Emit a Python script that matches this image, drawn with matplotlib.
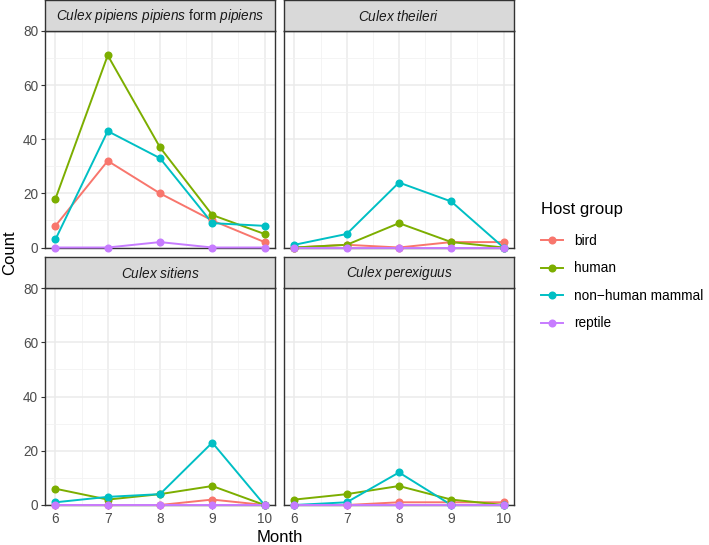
import matplotlib
matplotlib.use("Agg")
import matplotlib.pyplot as plt
from matplotlib.lines import Line2D

plt.rcParams['font.family'] = ['Liberation Sans', 'DejaVu Sans']
plt.rcParams['mathtext.fontset'] = 'custom'
plt.rcParams['mathtext.rm'] = 'Liberation Sans'
plt.rcParams['mathtext.it'] = 'Liberation Sans:italic'

months = [6, 7, 8, 9, 10]
groups = ["bird", "human", "non\u2212human mammal", "reptile"]
colors = ["#F8766D", "#7CAE00", "#00BFC4", "#C77CFF"]

species = [r"$\mathit{Culex\ pipiens\ pipiens}$ form $\mathit{pipiens}$",
           r"$\mathit{Culex\ theileri}$",
           r"$\mathit{Culex\ sitiens}$",
           r"$\mathit{Culex\ perexiguus}$"]

# counts per species, per host group, per month
pipiens = [[8, 32, 20, 10, 2],
           [18, 71, 37, 12, 5],
           [3, 43, 33, 9, 8],
           [0, 0, 2, 0, 0]]
theileri = [[0, 1, 0, 2, 2],
            [0, 1, 9, 2, 0],
            [1, 5, 24, 17, 0],
            [0, 0, 0, 0, 0]]
sitiens = [[0, 0, 0, 2, 0],
           [6, 2, 4, 7, 0],
           [1, 3, 4, 23, 0],
           [0, 0, 0, 0, 0]]
perexiguus = [[0, 0, 1, 1, 1],
              [2, 4, 7, 2, 0],
              [0, 1, 12, 0, 0],
              [0, 0, 0, 0, 0]]
all_data = [pipiens, theileri, sitiens, perexiguus]

W, H = 709, 545
fig = plt.figure(figsize=(W / 100, H / 100), dpi=100)

# panel boxes in pixels: left, top, right, bottom
boxes = [(45, 31, 275, 247.5), (284, 31, 514, 247.5),
         (45, 288, 275, 505), (284, 288, 514, 505)]
strip_h = 31
txt_size = 9.8
title_size = 12
lw = 1.4
ms = 5.8

for k, (l, t, r, b) in enumerate(boxes):
    ax = fig.add_axes([l / W, 1 - b / H, (r - l) / W, (b - t) / H])
    ax.set_facecolor("white")
    ax.set_xlim(5.8, 10.2)
    ax.set_ylim(0, 80)
    ax.set_xticks(months)
    ax.set_xticks([6.5, 7.5, 8.5, 9.5], minor=True)
    ax.set_yticks([0, 20, 40, 60, 80])
    ax.set_yticks([10, 30, 50, 70], minor=True)
    ax.grid(which="major", color="#EBEBEB", lw=1.1)
    ax.grid(which="minor", color="#F2F2F2", lw=0.6)
    ax.set_axisbelow(True)
    for s in ax.spines.values():
        s.set_color("#333333")
        s.set_linewidth(1.0)
    ax.tick_params(which="minor", length=0)
    ax.tick_params(which="major", length=3, width=0.8, color="#333333",
                   labelcolor="#4D4D4D", labelsize=txt_size, pad=2)
    if k % 2 == 1:
        ax.tick_params(axis="y", length=0, labelleft=False)
    if k < 2:
        ax.tick_params(axis="x", length=0, labelbottom=False)
    data = all_data[k]
    for g in range(4):
        ax.plot(months, data[g], color=colors[g], lw=lw, clip_on=False, zorder=3)
    for g in range(4):
        ax.plot(months, data[g], 'o', color=colors[g], ms=ms, mew=0,
                clip_on=False, zorder=4)

    # strip
    sax = fig.add_axes([l / W, 1 - t / H, (r - l) / W, strip_h / H])
    sax.set_facecolor("#D9D9D9")
    sax.set_xticks([])
    sax.set_yticks([])
    for s in sax.spines.values():
        s.set_color("#333333")
        s.set_linewidth(1.0)
    sax.text(0.5, 0.48, species[k], ha="center", va="center",
             fontsize=txt_size, color="#1A1A1A", transform=sax.transAxes)

fig.text(279.5 / W, 1 - 538 / H, "Month", ha="center", va="center", fontsize=title_size)
fig.text(10 / W, 1 - 252.5 / H, "Count", ha="center", va="center", fontsize=title_size,
         rotation=90)

handles = [Line2D([0], [0], color=c, lw=lw, marker='o', ms=ms, mew=0) for c in colors]
fig.legend(handles, groups, title="Host group", loc="upper left",
           bbox_to_anchor=(541 / W, 1 - 202 / H), frameon=False,
           borderpad=0, borderaxespad=0,
           fontsize=txt_size, title_fontsize=title_size, handlelength=1.6,
           handletextpad=0.85, labelspacing=1.0, alignment="left")
fig.legends[0]._legend_box.sep = 12

fig.savefig("out.png", dpi=100)
